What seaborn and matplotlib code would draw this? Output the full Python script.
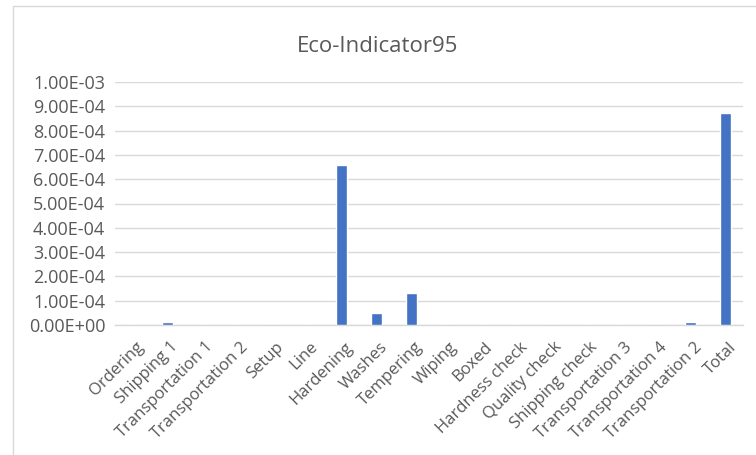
import matplotlib
matplotlib.use("Agg")
import matplotlib.pyplot as plt
from matplotlib.lines import Line2D
from matplotlib.transforms import ScaledTranslation
import seaborn as sns
import pandas as pd

steps = ["Ordering", "Shipping 1", "Transportation 1", "Transportation 2", "Setup",
         "Line", "Hardening", "Washes", "Tempering", "Wiping", "Boxed",
         "Hardness check", "Quality check", "Shipping check", "Transportation 3",
         "Transportation 4", "Transportation 2", "Total"]
impact = [0.0, 1.3e-5, 0.0, 0.0, 0.0,
          0.0, 6.57e-4, 5.0e-5, 1.3e-4, 0.0, 0.0,
          0.0, 0.0, 0.0, 0.0,
          0.0, 1.3e-5, 8.72e-4]
y_ticks = [i * 1e-4 for i in range(11)]
y_tick_labels = ["0.00E+00", "1.00E-04", "2.00E-04", "3.00E-04", "4.00E-04",
                 "5.00E-04", "6.00E-04", "7.00E-04", "8.00E-04", "9.00E-04", "1.00E-03"]

sns.set_theme(style="white")
plt.rcParams["font.family"] = ["Open Sans", "DejaVu Sans"]

text_grey = "#595959"
grid_grey = "#d9d9d9"
bar_blue = "#4472C4"

# "Transportation 2" occurs twice, so bars are keyed by position
df = pd.DataFrame({"pos": list(range(len(steps))), "impact": impact})

fig = plt.figure(figsize=(7.56, 4.55), dpi=100)
ax = fig.add_axes([115 / 756, 1 - 325 / 455, (743 - 115) / 756, (325 - 82) / 455])

sns.barplot(data=df, x="pos", y="impact", color=bar_blue, saturation=1,
            width=0.31, ax=ax, zorder=3)

ax.set_ylim(0, 1e-3)
ax.set_xlim(-0.5, len(steps) - 0.5)
ax.set_yticks(y_ticks, y_tick_labels)
ax.set_xticks(range(len(steps)), steps)
ax.grid(axis="y", color=grid_grey, linewidth=1, zorder=0)
ax.grid(axis="x", visible=False)
for side in ["top", "right", "left"]:
    ax.spines[side].set_visible(False)
ax.spines["bottom"].set_color(grid_grey)
ax.spines["bottom"].set_linewidth(1)

ax.tick_params(axis="y", length=0, pad=7, labelsize=13, labelcolor=text_grey)
ax.tick_params(axis="x", length=0, pad=10, labelsize=12, labelcolor=text_grey)
shift = ScaledTranslation(3 / 100, 0, fig.dpi_scale_trans)
for lbl in ax.get_xticklabels():
    lbl.set_rotation(45)
    lbl.set_ha("right")
    lbl.set_va("top")
    lbl.set_rotation_mode("anchor")
    lbl.set_transform(lbl.get_transform() + shift)

ax.set_xlabel("")
ax.set_ylabel("")

fig.text(0.5, 1 - 46 / 455, "Eco-Indicator95", ha="center", va="center",
         fontsize=16, color=text_grey)

# light chart-area outline along the top and left edges
fig.add_artist(Line2D([12.5 / 756, 1], [1 - 5.5 / 455, 1 - 5.5 / 455],
                      transform=fig.transFigure, color=grid_grey, linewidth=1))
fig.add_artist(Line2D([12.5 / 756, 12.5 / 756], [0, 1 - 5.5 / 455],
                      transform=fig.transFigure, color=grid_grey, linewidth=1))

fig.savefig("out.png", dpi=100)
